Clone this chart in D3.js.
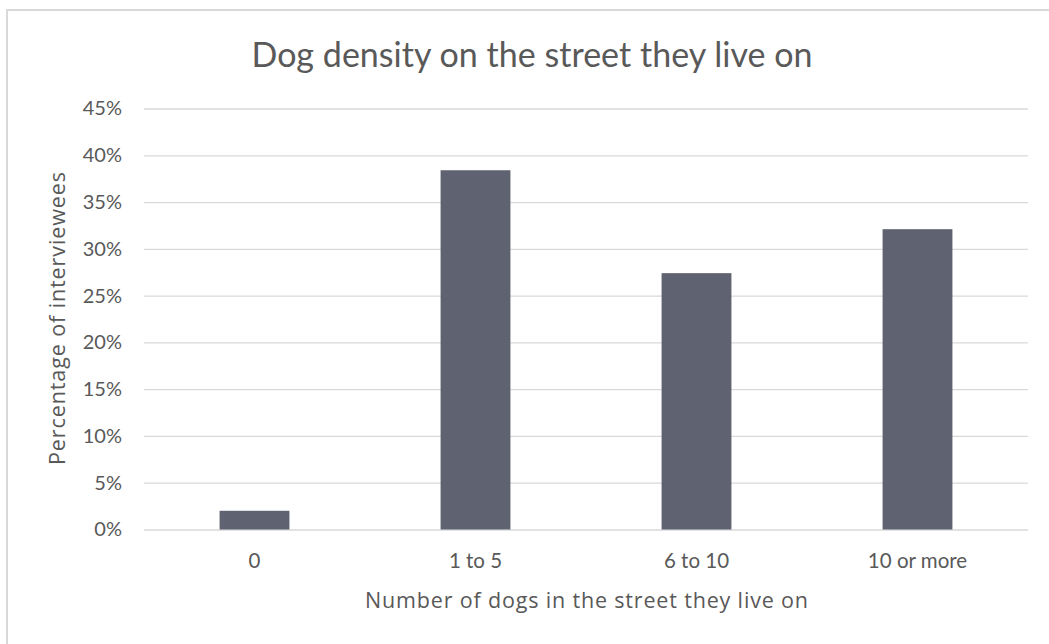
<!DOCTYPE html>
<html>
<head>
<meta charset="utf-8">
<script src="https://cdn.jsdelivr.net/npm/d3@7"></script>
<style>
  html, body { margin: 0; padding: 0; background: #fff; }
  svg { display: block; font-family: Lato, "Open Sans", sans-serif; }
</style>
</head>
<body>
<svg id="chart" width="1049" height="644"></svg>
<script>
// Share of interviewees by number of dogs on their street
const categories = ["0", "1 to 5", "6 to 10", "10 or more"];
const percentages = [2.0, 38.4, 27.4, 32.1];
const yTicks = [0, 5, 10, 15, 20, 25, 30, 35, 40, 45];

const title = "Dog density on the street they live on";
const xTitle = "Number of dogs in the street they live on";
const yTitle = "Percentage of interviewees";

const svg = d3.select("#chart");
const plot = { left: 144, right: 1028, top: 108.5, bottom: 529.5 };
const textColor = "#595959";

// outer chart border (runs off the right and bottom edges)
svg.append("rect")
  .attr("x", 7).attr("y", 10)
  .attr("width", 1060).attr("height", 660)
  .attr("fill", "#fff")
  .attr("stroke", "#d9d9d9").attr("stroke-width", 2);

const x = d3.scaleBand()
  .domain(categories)
  .range([plot.left, plot.right])
  .paddingInner(0.684)
  .paddingOuter(0.342);

const y = d3.scaleLinear()
  .domain([0, 45])
  .range([plot.bottom, plot.top]);

// horizontal gridlines + tick labels
const yAxis = d3.axisLeft(y)
  .tickValues(yTicks)
  .tickSize(-(plot.right - plot.left))
  .tickPadding(22)
  .tickFormat(d => d + "%");

const gy = svg.append("g")
  .attr("transform", `translate(${plot.left},0)`)
  .call(yAxis);
gy.select(".domain").remove();
gy.selectAll(".tick line").attr("stroke", "#d9d9d9").attr("stroke-width", 1.3);
gy.selectAll(".tick text")
  .attr("fill", textColor)
  .attr("font-size", 20)
  .attr("font-family", "Lato, sans-serif");

// bars
svg.append("g")
  .selectAll("rect")
  .data(categories.map((c, i) => ({ c, v: percentages[i] })))
  .join("rect")
  .attr("x", d => x(d.c))
  .attr("width", x.bandwidth())
  .attr("y", d => y(d.v))
  .attr("height", d => y(0) - y(d.v))
  .attr("fill", "#5f6271");

// category labels
const xAxis = d3.axisBottom(x).tickSize(0).tickPadding(24);
const gx = svg.append("g")
  .attr("transform", `translate(0,${plot.bottom})`)
  .call(xAxis);
gx.select(".domain").remove();
gx.selectAll(".tick text")
  .attr("fill", textColor)
  .attr("font-size", 20.5)
  .attr("font-family", "Lato, sans-serif");

// titles
svg.append("text")
  .attr("x", 532)
  .attr("y", 67)
  .attr("text-anchor", "middle")
  .attr("fill", textColor)
  .attr("font-size", 34)
  .attr("textLength", 561)
  .attr("lengthAdjust", "spacing")
  .text(title);

svg.append("text")
  .attr("x", 586.5)
  .attr("y", 607.5)
  .attr("text-anchor", "middle")
  .attr("fill", textColor)
  .attr("font-family", "'Open Sans', sans-serif")
  .attr("font-size", 21.5)
  .attr("textLength", 443)
  .attr("lengthAdjust", "spacing")
  .text(xTitle);

svg.append("text")
  .attr("transform", `translate(65,${(172 + 465) / 2}) rotate(-90)`)
  .attr("text-anchor", "middle")
  .attr("fill", textColor)
  .attr("font-family", "'Open Sans', sans-serif")
  .attr("font-size", 21.5)
  .attr("textLength", 293)
  .attr("lengthAdjust", "spacing")
  .text(yTitle);
</script>
</body>
</html>
